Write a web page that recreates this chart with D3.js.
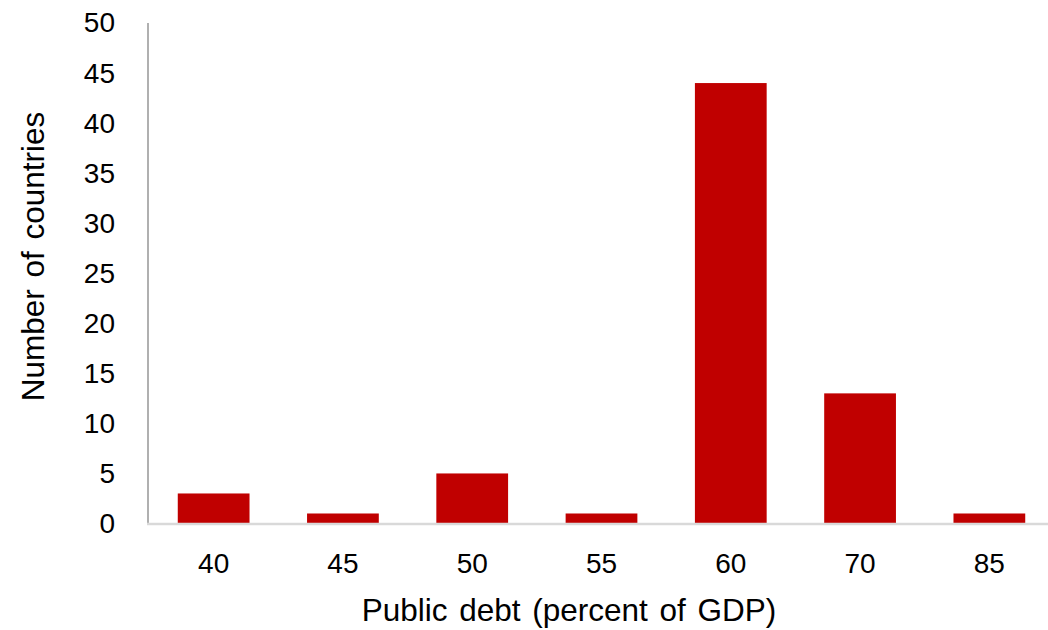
<!DOCTYPE html>
<html>
<head>
<meta charset="utf-8">
<script src="https://cdn.jsdelivr.net/npm/d3@7"></script>
<style>
  html, body { margin: 0; padding: 0; background: #ffffff; }
  svg { display: block; }
  text { font-family: "Liberation Sans", Arial, sans-serif; fill: #000; }
</style>
</head>
<body>
<svg id="chart" width="1048" height="630"></svg>
<script>
// Distribution of public debt thresholds
const categories = ["40", "45", "50", "55", "60", "70", "85"];
const counts = [3, 1, 5, 1, 44, 13, 1];
const yTicks = [0, 5, 10, 15, 20, 25, 30, 35, 40, 45, 50];
const xTitle = "Public debt (percent of GDP)";
const yTitle = "Number of countries";

const svg = d3.select("#chart");
const tickFont = 28;
const titleFont = 31.5;

const x = d3.scaleBand()
  .domain(categories)
  .range([149, 1054])
  .paddingInner(0.445)
  .paddingOuter(0.2225);

const y = d3.scaleLinear()
  .domain([0, 50])
  .range([523.5, 23]);

// Bars
svg.append("g")
  .selectAll("rect")
  .data(categories.map((c, i) => ({ c, v: counts[i] })))
  .join("rect")
  .attr("x", d => x(d.c))
  .attr("width", x.bandwidth())
  .attr("y", d => y(d.v))
  .attr("height", d => y(0) - y(d.v))
  .attr("fill", "#c00000");

// Left axis line
svg.append("line")
  .attr("x1", 148).attr("x2", 148)
  .attr("y1", y(50)).attr("y2", y(0))
  .attr("stroke", "#b0b0b0").attr("stroke-width", 2);

// Bottom axis line
svg.append("line")
  .attr("x1", 147).attr("x2", 1054)
  .attr("y1", y(0) + 0.5).attr("y2", y(0) + 0.5)
  .attr("stroke", "#d9d9d9").attr("stroke-width", 2.5);

// Y tick labels
const yAxis = d3.axisLeft(y).tickValues(yTicks).tickSize(0).tickPadding(33);
const gy = svg.append("g").attr("transform", "translate(148,0)").call(yAxis);
gy.select(".domain").remove();
gy.selectAll("text")
  .attr("font-size", tickFont)
  .attr("font-family", "Liberation Sans, Arial, sans-serif")
  .attr("fill", "#000");

// X tick labels
const xAxis = d3.axisBottom(x).tickSize(0).tickPadding(0);
const gx = svg.append("g").call(xAxis);
gx.select(".domain").remove();
gx.selectAll("text")
  .attr("y", 573)
  .attr("dy", null)
  .attr("font-size", tickFont)
  .attr("font-family", "Liberation Sans, Arial, sans-serif")
  .attr("fill", "#000");

// Axis titles
svg.append("text")
  .attr("x", 569).attr("y", 621)
  .attr("text-anchor", "middle")
  .attr("font-size", titleFont)
  .style("word-spacing", "3px")
  .text(xTitle);

svg.append("text")
  .attr("transform", "translate(43.5,256.5) rotate(-90)")
  .attr("text-anchor", "middle")
  .attr("font-size", titleFont)
  .style("word-spacing", "3px")
  .text(yTitle);
</script>
</body>
</html>
